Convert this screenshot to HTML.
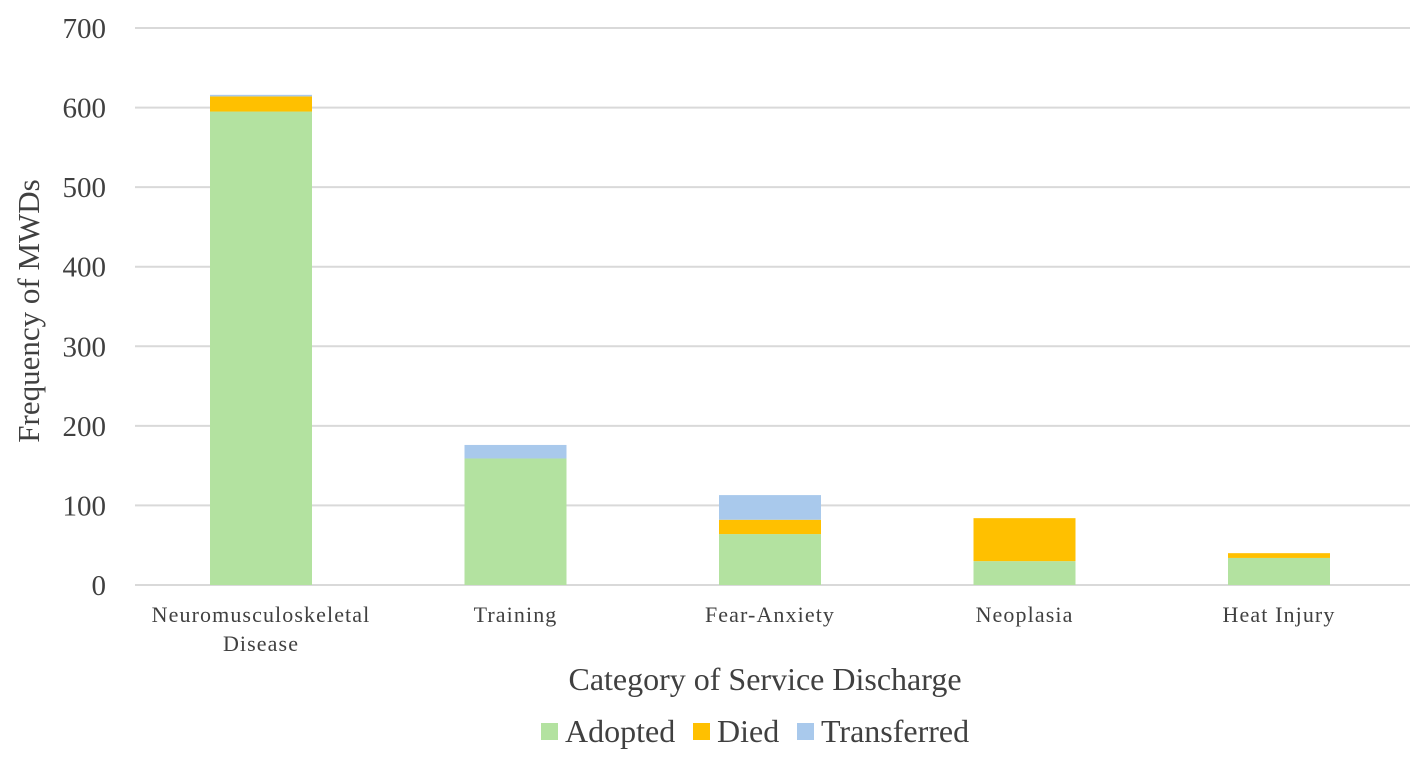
<!DOCTYPE html>
<html><head><meta charset="utf-8"><style>
body{margin:0;background:#fff;}
svg text{font-family:"Liberation Serif",serif;fill:#404040;}
</style></head><body>
<svg width="1418" height="762" id="c"></svg>
<script>
const categories=["Neuromusculoskeletal|Disease","Training","Fear-Anxiety","Neoplasia","Heat Injury"];
const adopted=[595,159,64,30,34];
const died=[19,0,18,54,6];
const transferred=[2,17,31,0,0];
const yTicks=[0,100,200,300,400,500,600,700];
const seriesNames=["Adopted","Died","Transferred"];
const colors=["#b3e2a0","#ffc000","#a9c9ec"];
const NS="http://www.w3.org/2000/svg";
const svg=document.getElementById('c');
function el(t,a,p){const e=document.createElementNS(NS,t);for(const k in a)e.setAttribute(k,a[k]);(p||svg).appendChild(e);return e;}
const y0=585,pxPer=(585-28)/700;
function y(v){return y0-v*pxPer;}
const left=135,right=1410,band=254.5,firstC=261,bw=102;
function xc(i){return firstC+band*i;}
yTicks.forEach(t=>{
 const l=el('line',{x1:left,x2:right,y1:y(t),y2:y(t),stroke:'#d9d9d9','stroke-width':2});
 
 
 const tx=el('text',{x:106,y:y(t)+10,'text-anchor':'end','font-size':29});
 tx.textContent=t;
 
 
});
const series=[adopted,died,transferred];
categories.forEach((c,i)=>{
 let base=0;
 series.forEach((s,j)=>{
  const v=s[i];if(v<=0)return;
  const r=el('rect',{x:xc(i)-bw/2,y:y(base+v),width:bw,height:v*pxPer,fill:colors[j]});
  
  
  base+=v;
 });
 const lines=c.split('|');
 lines.forEach((ln,k)=>{
  const t=el('text',{x:xc(i),y:622+k*29,'text-anchor':'middle','font-size':22,'letter-spacing':1.1});
  t.textContent=ln;
  
  
 });
});
const xt=el('text',{x:765,y:690,'text-anchor':'middle','font-size':32});
xt.textContent="Category of Service Discharge";


const yt=el('text',{x:0,y:0,'text-anchor':'middle','font-size':31,transform:'translate(39,311) rotate(-90)'});
yt.textContent="Frequency of MWDs";


const lx=[541,693,797];
seriesNames.forEach((n,j)=>{
 const g=el('g',{});
 
 
 el('rect',{x:lx[j],y:723,width:17,height:17,fill:colors[j]},g);
 const t=el('text',{x:lx[j]+24,y:742,'font-size':32},g);
 t.textContent=n;
});
</script>
</body></html>
